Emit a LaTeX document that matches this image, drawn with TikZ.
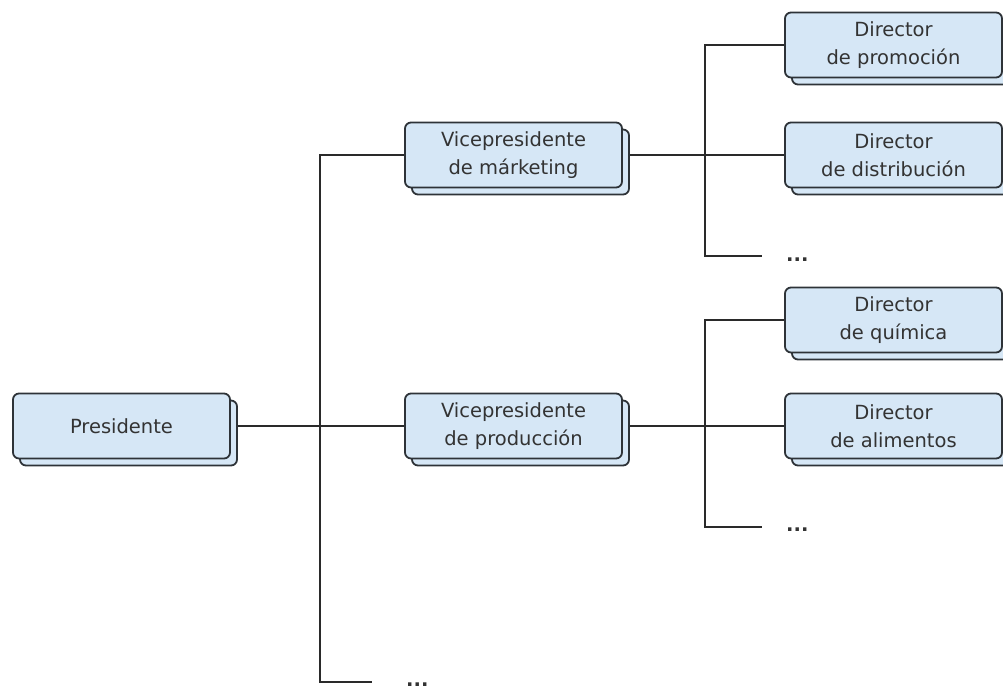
\documentclass[tikz,border=0pt]{standalone}
\usepackage{fontspec}
\setmainfont{DejaVu Sans}
\usetikzlibrary{shadows}
\pgfdeclarelayer{background}
\pgfsetlayers{background,main}
\definecolor{boxfill}{HTML}{D6E7F6}
\definecolor{boxline}{HTML}{2E3338}
\definecolor{txt}{HTML}{333333}
\definecolor{conn}{HTML}{2A2A2A}
\tikzset{
  orgbox/.style={draw=boxline, line width=1.8pt, fill=boxfill, rounded corners=6pt,
    minimum width=217pt, minimum height=65pt, inner sep=0pt, align=center,
    text=txt, font=\fontsize{19.5}{28}\selectfont,
    copy shadow={shadow xshift=7pt, shadow yshift=-7pt}},
  conline/.style={draw=conn, line width=2pt},
  dots/.style={anchor=base west, inner sep=0pt, text=txt, font=\bfseries\fontsize{19.5}{24}\selectfont}
}
\begin{document}
\begin{tikzpicture}[x=1pt,y=-1pt]
\useasboundingbox (0,0) rectangle (1003,687);
\node[orgbox] (pres) at (121.5,426) {Presidente};
\node[orgbox] (vpm) at (513.5,155) {Vicepresidente\\de márketing};
\node[orgbox] (vpp) at (513.5,426) {Vicepresidente\\de producción};
\node[orgbox] (dprom) at (893.5,45) {Director\\de promoción};
\node[orgbox] (ddist) at (893.5,155) {Director\\de distribución};
\node[orgbox] (dqui) at (893.5,320) {Director\\de química};
\node[orgbox] (dali) at (893.5,426) {Director\\de alimentos};
\coordinate (e0) at (372,682);
\coordinate (e1) at (762,256);
\coordinate (e2) at (762,527);
\node[dots] (d0) at (406,686) {...};
\node[dots] (d1) at (786,261) {...};
\node[dots] (d2) at (786,531) {...};
\begin{pgfonlayer}{background}
\draw[conline] (pres.east) -- (vpp.west);
\draw[conline] (vpm.west) -- (320,155) -- (320,682) -- (e0);
\draw[conline] (vpm.east) -- (ddist.west);
\draw[conline] (dprom.west) -- (705,45) -- (705,256) -- (e1);
\draw[conline] (vpp.east) -- (dali.west);
\draw[conline] (dqui.west) -- (705,320) -- (705,527) -- (e2);
\end{pgfonlayer}
\end{tikzpicture}
\end{document}
